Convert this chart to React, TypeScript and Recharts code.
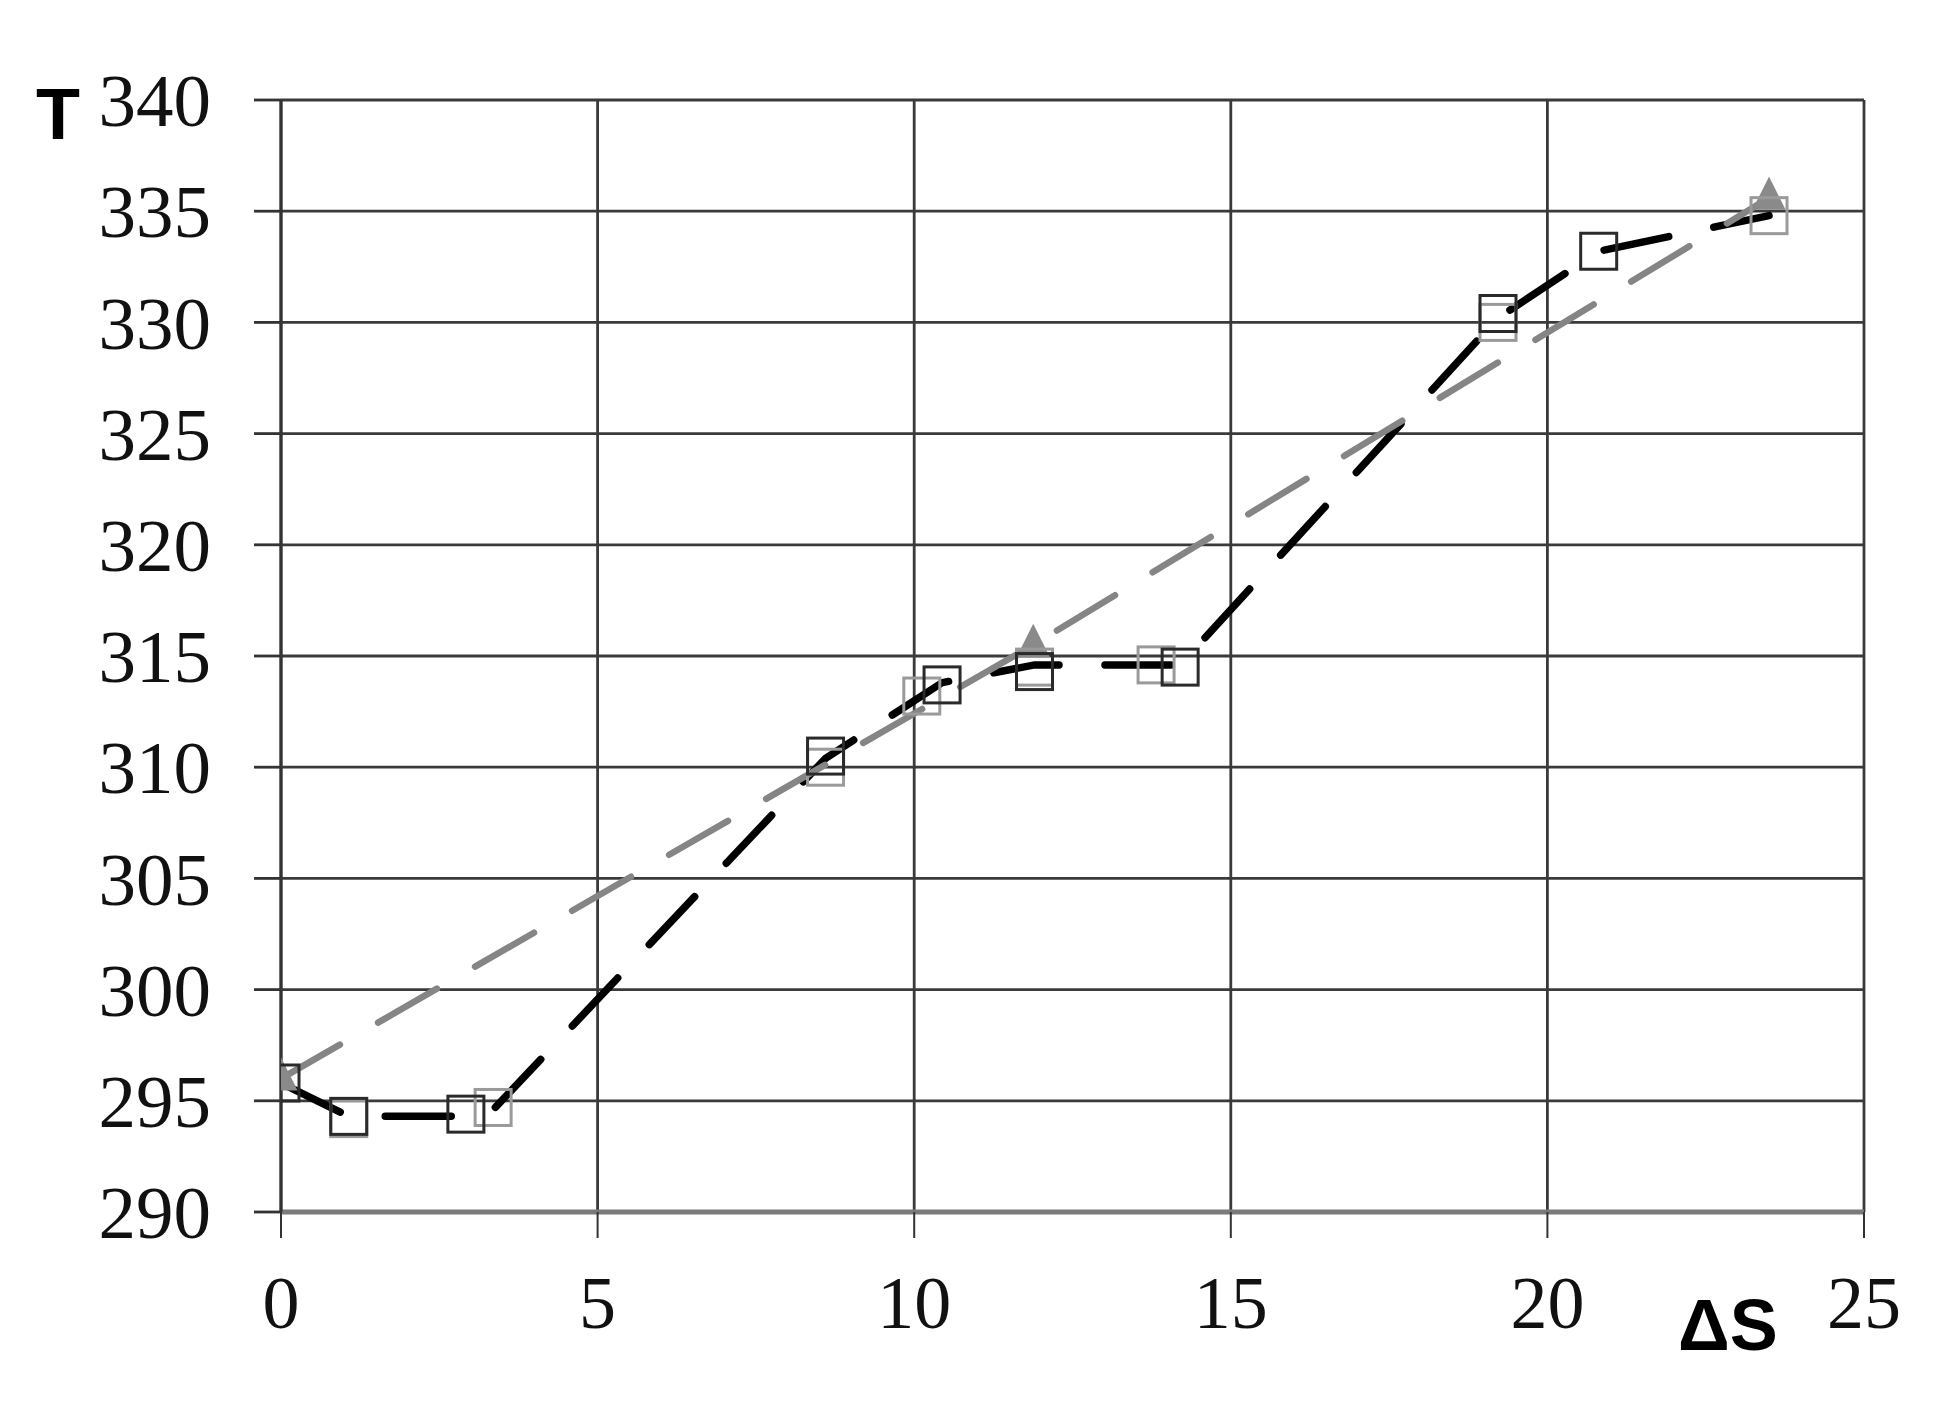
import React from 'react';
import { ComposedChart, Scatter, XAxis, YAxis, CartesianGrid } from 'recharts';

// Black dashed series (line vertices)
const blackLineX = [0, 1.07, 2.95, 3.35, 8.6, 10.44, 11.9, 14.2, 19.22, 20.81, 23.5];
const blackLineY = [295.8, 294.3, 294.3, 294.6, 310.4, 313.8, 314.6, 314.6, 330.2, 333.2, 334.8];

// Black square markers
const blackSqX = [0, 1.07, 2.92, 8.6, 10.44, 11.9, 14.2, 19.22, 20.81];
const blackSqY = [295.8, 294.3, 294.4, 310.5, 313.7, 314.3, 314.5, 330.4, 333.2];

// Gray square markers
const graySqX = [1.07, 3.35, 8.6, 10.12, 11.9, 13.82, 19.22, 23.5];
const graySqY = [294.2, 294.7, 310.0, 313.2, 314.5, 314.6, 330.0, 334.8];

// Gray dashed series with triangles
const grayX = [0, 11.88, 23.5];
const grayY = [296.0, 315.5, 335.6];

const xTicks = [0, 5, 10, 15, 20, 25];
const yTicks = [290, 295, 300, 305, 310, 315, 320, 325, 330, 335, 340];

const zip = (xs: number[], ys: number[]) => xs.map((x, i) => ({ x, y: ys[i] }));

const blackLine = zip(blackLineX, blackLineY);
const blackSq = zip(blackSqX, blackSqY);
const graySq = zip(graySqX, graySqY);
const grayLine = zip(grayX, grayY);

const SERIF = '"Liberation Serif", "Times New Roman", serif';
const SANS = '"Liberation Sans", Arial, sans-serif';

const Empty = () => <g />;

const Square = (color: string) => (props: any) => {
  const { cx, cy } = props;
  const s = 36;
  return <rect x={cx - s / 2} y={cy - s / 2} width={s} height={s} fill="none" stroke={color} strokeWidth={3} />;
};

const Triangle = (props: any) => {
  const { cx, cy } = props;
  const h = 30;
  const w = 30;
  return (
    <polygon
      points={`${cx},${cy - h / 2 - 4} ${cx - w / 2},${cy + h / 2 - 4} ${cx + w / 2},${cy + h / 2 - 4}`}
      fill="#8a8a8a"
      stroke="#8a8a8a"
      strokeWidth={2}
    />
  );
};

const YTick = (props: any) => {
  const { x, y, payload } = props;
  return (
    <text x={x} y={y} dy="0.35em" textAnchor="end" fontFamily={SERIF} fontSize={75} fill="#111">
      {payload.value}
    </text>
  );
};

const XTick = (props: any) => {
  const { x, y, payload } = props;
  return (
    <text x={x} y={y} dy="0.71em" textAnchor="middle" fontFamily={SERIF} fontSize={74} fill="#111">
      {payload.value}
    </text>
  );
};

export default function App() {
  return (
    <div style={{ position: 'relative', width: 1934, height: 1400 }}>
      <ComposedChart
        width={1934}
        height={1400}
        margin={{ top: 92, right: 78, left: 0, bottom: 0 }}
      >
        <CartesianGrid stroke="#3a3a3a" strokeWidth={2.8} />
        <XAxis
          type="number"
          dataKey="x"
          domain={[0, 25]}
          ticks={xTicks}
          allowDataOverflow
          height={196}
          tickSize={26}
          tickMargin={37}
          tickLine={{ stroke: '#333', strokeWidth: 2 }}
          axisLine={{ stroke: '#7a7a7a', strokeWidth: 5 }}
          tick={<XTick />}
          interval={0}
        />
        <YAxis
          type="number"
          dataKey="y"
          domain={[290, 340]}
          ticks={yTicks}
          allowDataOverflow
          width={273}
          tickSize={27}
          tickMargin={43}
          tickLine={{ stroke: '#333', strokeWidth: 2.8 }}
          axisLine={{ stroke: '#333', strokeWidth: 3 }}
          tick={<YTick />}
          interval={0}
        />
        <Scatter
          data={blackLine}
          line={{ stroke: '#000', strokeWidth: 7.5, strokeDasharray: '66 46', strokeLinecap: 'round' }}
          lineType="joint"
          shape={<Empty />}
          isAnimationActive={false}
        />
        <Scatter
          data={grayLine}
          line={{ stroke: '#858585', strokeWidth: 6.5, strokeDasharray: '68 44', strokeLinecap: 'round' }}
          lineType="joint"
          shape={<Triangle />}
          isAnimationActive={false}
        />
        <Scatter data={graySq} shape={Square('#9a9a9a')} isAnimationActive={false} />
        <Scatter data={blackSq} shape={Square('#2a2a2a')} isAnimationActive={false} />
      </ComposedChart>
      <svg
        width={1934}
        height={1400}
        style={{ position: 'absolute', left: 0, top: 0, pointerEvents: 'none' }}
      >
        <text x={28} y={131} fontFamily={SANS} fontWeight="bold" fontSize={72} fill="#000">
          T
        </text>
        <text x={1670} y={1342} fontFamily={SANS} fontWeight="bold" fontSize={72} fill="#000">
          ΔS
        </text>
      </svg>
    </div>
  );
}
